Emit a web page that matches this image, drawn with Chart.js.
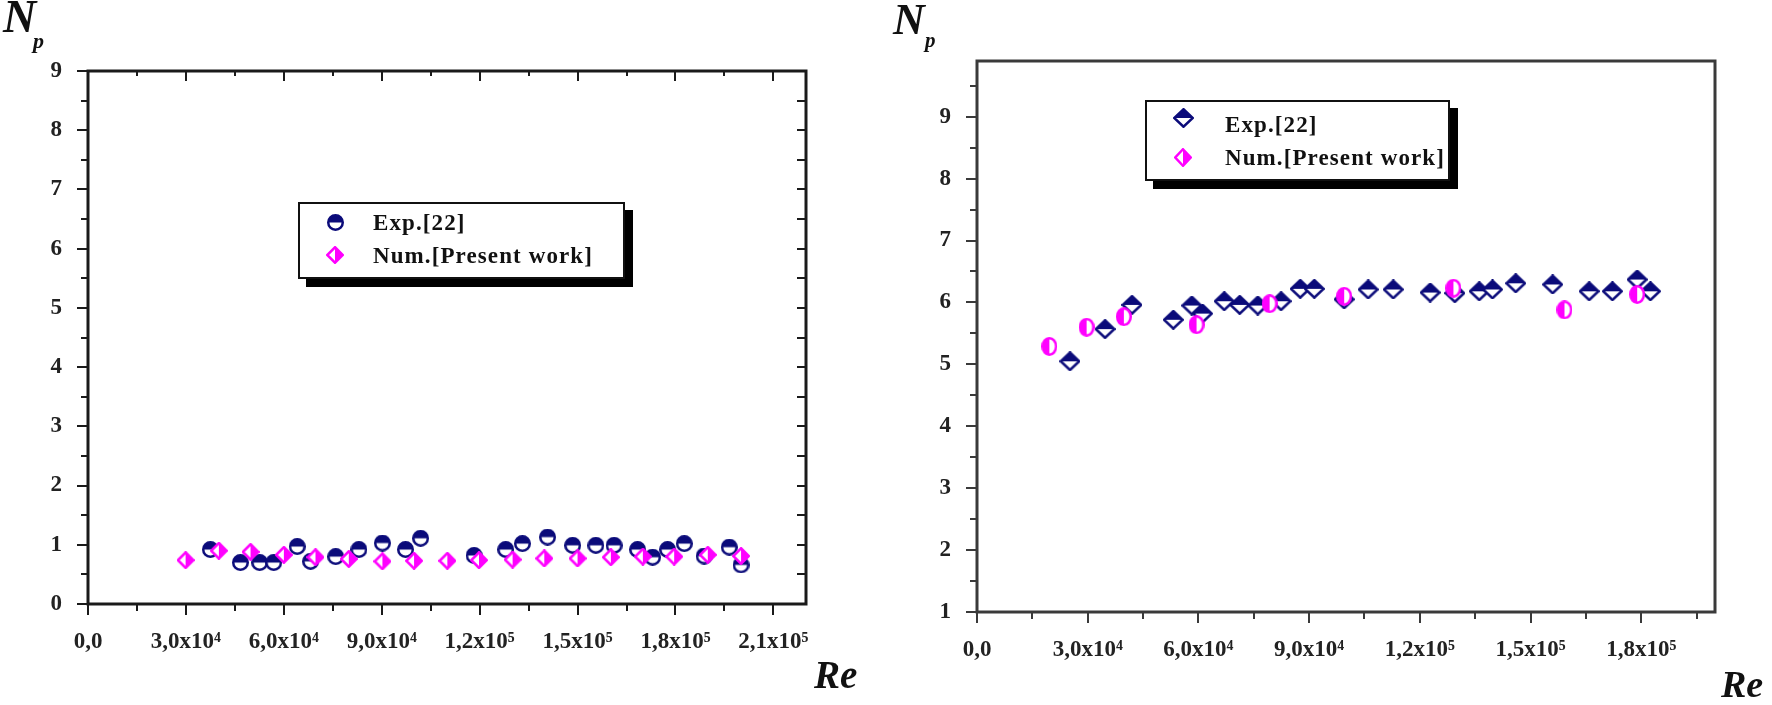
<!DOCTYPE html>
<html>
<head>
<meta charset="utf-8">
<title>Np vs Re</title>
<script src="https://cdn.jsdelivr.net/npm/chart.js@4.4.1/dist/chart.umd.min.js"></script>
<style>
  html, body { margin: 0; padding: 0; background: #fff; }
  #page { position: relative; width: 1772px; height: 705px; overflow: hidden; font-family: "Liberation Serif", "Times New Roman", serif; color: #111; }
  canvas { position: absolute; top: 0; }
  .axt { position: absolute; font-weight: bold; font-style: italic; white-space: nowrap; line-height: 1; }
  .legend { position: absolute; background: #fff; border: 2px solid #111; box-shadow: 8px 8px 0 #000; box-sizing: border-box; }
  .legend .row { position: absolute; font-weight: bold; font-size: 23px; line-height: 23px; white-space: nowrap; letter-spacing: 1.1px; }
  .legend canvas { position: absolute; }
</style>
</head>
<body>
<div id="page">
  <canvas id="left" width="880" height="705" style="left:0"></canvas>
  <canvas id="right" width="892" height="705" style="left:880px"></canvas>

  <div class="axt" style="left:3px;top:-6px;font-size:46px">N</div>
  <div class="axt" style="left:33px;top:30px;font-size:22px">p</div>
  <div class="axt" style="left:814px;top:655px;font-size:39px">Re</div>

  <div class="axt" style="left:893px;top:-2px;font-size:44px">N</div>
  <div class="axt" style="left:925px;top:30px;font-size:21px">p</div>
  <div class="axt" style="left:1721px;top:665px;font-size:38px">Re</div>

  <div class="legend" id="legLeft" style="left:298px;top:202px;width:327px;height:77px"></div>
  <div class="legend" id="legRight" style="left:1145px;top:100px;width:305px;height:81px"></div>
</div>
<script>
// left panel: Re vs Np
const leftExpRe = [37500, 46700, 52600, 56900, 64100, 68200, 75900, 83000, 90200, 97300, 101900, 118300, 128000, 133100, 140800, 148500, 155600, 161200, 168400, 173000, 177600, 182700, 188800, 196500, 200100];
const leftExpNp = [0.92, 0.70, 0.70, 0.70, 0.97, 0.72, 0.80, 0.92, 1.03, 0.92, 1.11, 0.82, 0.92, 1.02, 1.13, 0.99, 0.99, 0.99, 0.92, 0.79, 0.92, 1.02, 0.81, 0.96, 0.66];
const leftNumRe = [29900, 40100, 49800, 60000, 69700, 79900, 90200, 99900, 110100, 119800, 130100, 139800, 150000, 160200, 170000, 179600, 189900, 200100];
const leftNumNp = [0.74, 0.90, 0.88, 0.83, 0.79, 0.76, 0.72, 0.73, 0.73, 0.74, 0.75, 0.77, 0.77, 0.79, 0.80, 0.80, 0.83, 0.81];

// right panel
const rightExpRe = [25200, 34700, 42000, 53200, 58200, 61100, 67000, 71200, 76100, 82400, 87600, 91400, 99500, 106000, 112800, 122800, 129500, 136100, 139700, 146000, 156000, 165900, 172200, 178900, 182500];
const rightExpNp = [5.05, 5.57, 5.96, 5.72, 5.95, 5.82, 6.02, 5.96, 5.95, 6.02, 6.22, 6.22, 6.05, 6.21, 6.21, 6.16, 6.15, 6.18, 6.21, 6.31, 6.29, 6.18, 6.18, 6.37, 6.18];
const rightNumRe = [19600, 29700, 39800, 59500, 79300, 99500, 129100, 159200, 178900];
const rightNumNp = [5.29, 5.60, 5.77, 5.64, 5.98, 6.10, 6.23, 5.88, 6.13];

const seriesLabels = ['Exp.[22]', 'Num.[Present work]'];
const leftXTicks = [0, 30000, 60000, 90000, 120000, 150000, 180000, 210000];
const rightXTicks = [0, 30000, 60000, 90000, 120000, 150000, 180000];

const NAVY = '#0b0b7a';
const PINK = '#ff00ff';
const SUP = { 4: '\u2074', 5: '\u2075' };

function zip(xs, ys) {
  return xs.map((x, i) => ({ x: x, y: ys[i] }));
}

function reLabel(v) {
  if (v === 0) return '0,0';
  const e = Math.floor(Math.log10(v) + 1e-9);
  const m = (v / Math.pow(10, e)).toFixed(1).replace('.', ',');
  return m + 'x10' + SUP[e];
}

// half filled marker, drawn once into a small canvas and used as pointStyle
function marker(shape, half, color, w, h) {
  const c = document.createElement('canvas');
  c.width = w; c.height = h;
  const ctx = c.getContext('2d');
  const lw = 2.5;
  const path = () => {
    ctx.beginPath();
    if (shape === 'diamond') {
      ctx.moveTo(w / 2, lw / 2);
      ctx.lineTo(w - lw / 2, h / 2);
      ctx.lineTo(w / 2, h - lw / 2);
      ctx.lineTo(lw / 2, h / 2);
      ctx.closePath();
    } else {
      ctx.ellipse(w / 2, h / 2, w / 2 - lw / 2, h / 2 - lw / 2, 0, 0, Math.PI * 2);
    }
  };
  path();
  ctx.fillStyle = '#fff';
  ctx.fill();
  ctx.save();
  ctx.beginPath();
  if (half === 'top') ctx.rect(0, 0, w, h / 2);
  else if (half === 'right') ctx.rect(w / 2, 0, w / 2, h);
  else ctx.rect(0, 0, w / 2, h);
  ctx.clip();
  path();
  ctx.fillStyle = color;
  ctx.fill();
  ctx.restore();
  path();
  ctx.strokeStyle = color;
  ctx.lineWidth = lw;
  ctx.stroke();
  return c;
}

// frame box plus major/minor ticks
const framePlugin = {
  id: 'frame',
  afterDraw(chart, args, opts) {
    const { ctx, chartArea: a, scales: { x, y } } = chart;
    ctx.save();
    ctx.strokeStyle = opts.color;
    ctx.lineWidth = 2;
    ctx.beginPath();
    for (let v = Math.ceil(y.min * 2) / 2; v <= y.max + 1e-9; v += 0.5) {
      const py = Math.round(y.getPixelForValue(v));
      const major = Math.abs(v - Math.round(v)) < 1e-9;
      const len = major ? 11 : 7;
      ctx.moveTo(a.left - len, py); ctx.lineTo(a.left, py);
      if (opts.inner) { ctx.moveTo(a.right, py); ctx.lineTo(a.right - 9, py); }
    }
    for (let v = 0; v <= x.max + 1e-9; v += 15000) {
      const px = Math.round(x.getPixelForValue(v));
      const major = v % 30000 === 0;
      const len = major ? 11 : 7;
      ctx.moveTo(px, a.bottom); ctx.lineTo(px, a.bottom + len);
      if (opts.inner) { ctx.moveTo(px, a.top); ctx.lineTo(px, a.top + (major ? 10 : 5)); }
    }
    ctx.stroke();
    ctx.lineWidth = 3;
    ctx.strokeRect(a.left, a.top, a.right - a.left, a.bottom - a.top);
    ctx.restore();
  }
};

const tickFont = { family: 'Liberation Serif', weight: 'bold', size: 23 };

function makeChart(id, cfg) {
  return new Chart(document.getElementById(id), {
    type: 'scatter',
    data: {
      datasets: [
        { label: seriesLabels[0], data: cfg.exp, pointStyle: cfg.expMarker, pointRadius: 8, order: 1, legendMarker: cfg.expLegend },
        { label: seriesLabels[1], data: cfg.num, pointStyle: cfg.numMarker, pointRadius: 8, order: 0, legendMarker: cfg.numLegend }
      ]
    },
    options: {
      responsive: false,
      animation: false,
      events: [],
      layout: { padding: { left: 0, top: cfg.top, right: cfg.right, bottom: 0 } },
      plugins: {
        legend: { display: false },
        tooltip: { enabled: false },
        frame: { color: cfg.frameColor, inner: cfg.inner }
      },
      scales: {
        x: {
          type: 'linear', min: 0, max: cfg.xMax,
          grid: { display: false }, border: { display: false },
          afterBuildTicks: s => { s.ticks = cfg.xTicks.map(v => ({ value: v })); },
          afterFit: s => { s.height = cfg.xHeight; },
          ticks: { autoSkip: false, maxRotation: 0, padding: 16, color: '#222', font: tickFont, callback: v => reLabel(v) }
        },
        y: {
          min: cfg.yMin, max: cfg.yMax,
          grid: { display: false }, border: { display: false },
          afterFit: s => { s.width = cfg.yWidth; },
          ticks: { stepSize: 1, includeBounds: false, autoSkip: false, padding: 18, color: '#222', font: tickFont, callback: v => Number.isInteger(v) ? String(v) : '' }
        }
      }
    },
    plugins: [framePlugin]
  });
}

function buildLegend(chart, boxId, rows) {
  const box = document.getElementById(boxId);
  chart.data.datasets.forEach((ds, i) => {
    const r = rows[i];
    const m = ds.legendMarker;
    m.style.left = (r.mx - box.offsetLeft - 2 - m.width / 2) + 'px';
    m.style.top = (r.my - box.offsetTop - 2 - m.height / 2) + 'px';
    box.appendChild(m);
    const t = document.createElement('div');
    t.className = 'row';
    t.textContent = ds.label;
    t.style.left = (r.tx - box.offsetLeft - 2) + 'px';
    t.style.top = (r.ty - box.offsetTop - 2) + 'px';
    box.appendChild(t);
  });
}

const left = makeChart('left', {
  exp: zip(leftExpRe, leftExpNp), num: zip(leftNumRe, leftNumNp),
  expMarker: marker('circle', 'top', NAVY, 17, 17),
  numMarker: marker('diamond', 'right', PINK, 18, 18),
  expLegend: marker('circle', 'top', NAVY, 17, 17),
  numLegend: marker('diamond', 'right', PINK, 18, 18),
  xMax: 220000, xTicks: leftXTicks, yMin: 0, yMax: 9,
  top: 71, right: 74, xHeight: 101, yWidth: 88,
  frameColor: '#1a1a1a', inner: true
});

const right = makeChart('right', {
  exp: zip(rightExpRe, rightExpNp), num: zip(rightNumRe, rightNumNp),
  expMarker: marker('diamond', 'top', NAVY, 21, 20),
  numMarker: marker('circle', 'left', PINK, 16, 19),
  expLegend: marker('diamond', 'top', NAVY, 21, 20),
  numLegend: marker('diamond', 'right', PINK, 18, 19),
  xMax: 200000, xTicks: rightXTicks, yMin: 1, yMax: 9.9,
  top: 61, right: 57, xHeight: 93, yWidth: 97,
  frameColor: '#3a3a3a', inner: false
});

buildLegend(left, 'legLeft', [
  { mx: 335, my: 222, tx: 373, ty: 211 },
  { mx: 335, my: 255, tx: 373, ty: 244 }
]);
buildLegend(right, 'legRight', [
  { mx: 1183, my: 118, tx: 1225, ty: 113 },
  { mx: 1183, my: 157, tx: 1225, ty: 146 }
]);
</script>
</body>
</html>
